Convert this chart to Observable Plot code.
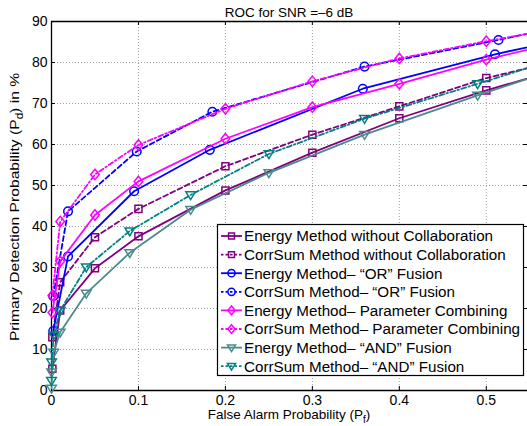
<!DOCTYPE html>
<html><head><meta charset="utf-8">
<script src="https://cdn.jsdelivr.net/npm/d3@7"></script>
<script src="https://cdn.jsdelivr.net/npm/@observablehq/plot@0.6"></script>
<style>
html,body{margin:0;padding:0;background:#fff;overflow:hidden;}
#chart svg{display:block;}
</style></head><body><div id="chart"></div>
<script>
// ---- data ----
const titleText = "ROC for SNR =\u20136 dB";
const xTicks = [0, 0.1, 0.2, 0.3, 0.4, 0.5];
const yTicks = [0, 10, 20, 30, 40, 50, 60, 70, 80, 90];
const seriesNames = [
  "Energy Method without Collaboration",
  "CorrSum Method without Collaboration",
  "Energy Method\u2013 \u201COR\u201D Fusion",
  "CorrSum Method\u2013 \u201COR\u201D Fusion",
  "Energy Method\u2013 Parameter Combining",
  "CorrSum Method\u2013 Parameter Combining",
  "Energy Method\u2013 \u201CAND\u201D Fusion",
  "CorrSum Method\u2013 \u201CAND\u201D Fusion"
];
const energyNoCollabX = [0.001, 0.01, 0.05, 0.1, 0.2, 0.3, 0.4, 0.5, 0.6];
const energyNoCollabY = [5.3, 19.5, 29.8, 37.6, 48.8, 58.0, 66.4, 73.2, 79.3];
const corrNoCollabX = [0.001, 0.01, 0.05, 0.1, 0.2, 0.3, 0.4, 0.5, 0.6];
const corrNoCollabY = [13.0, 26.4, 37.4, 44.3, 54.7, 62.4, 69.3, 76.2, 81.3];
const energyOrX = [0.002, 0.019, 0.095, 0.182, 0.358, 0.51, 0.64];
const energyOrY = [14.5, 32.7, 48.6, 58.7, 73.6, 82.0, 88.0];
const corrOrX = [0.002, 0.019, 0.098, 0.185, 0.36, 0.514, 0.64];
const corrOrY = [23.0, 43.7, 58.3, 68.0, 79.0, 85.5, 91.2];
const energyParamX = [0.001, 0.01, 0.05, 0.1, 0.2, 0.3, 0.4, 0.5, 0.6];
const energyParamY = [19.0, 31.5, 42.8, 51.0, 61.4, 69.1, 74.8, 80.7, 85.8];
const corrParamX = [0.001, 0.01, 0.05, 0.1, 0.2, 0.3, 0.4, 0.5, 0.6];
const corrParamY = [23.2, 41.2, 52.7, 59.9, 68.7, 75.4, 81.0, 85.2, 89.0];
const energyAndX = [0.000001, 0.0001, 0.0025, 0.01, 0.04, 0.09, 0.16, 0.25, 0.36, 0.49, 0.64];
const energyAndY = [0.5, 4.5, 9.3, 14.2, 23.7, 33.6, 44.1, 53.1, 62.4, 72.0, 82.5];
const corrAndX = [0.000001, 0.0001, 0.0025, 0.01, 0.04, 0.09, 0.16, 0.25, 0.36, 0.49, 0.64];
const corrAndY = [2.4, 6.9, 13.5, 19.5, 30.1, 38.9, 47.7, 57.7, 66.3, 74.8, 84.8];

const seriesX = [energyNoCollabX, corrNoCollabX, energyOrX, corrOrX, energyParamX, corrParamX, energyAndX, corrAndX];
const seriesY = [energyNoCollabY, corrNoCollabY, energyOrY, corrOrY, energyParamY, corrParamY, energyAndY, corrAndY];

// ---- styles ----
const colors = ["#800080", "#800080", "#0000ff", "#0000ff", "#ff00ff", "#ff00ff", "#4a8c8c", "#008080"];
const dashes = [null, "5,3", null, "5,3", null, "5,2.5,1.5,2.5", null, "5,2.5,1.5,2.5"];
const symbolKinds = ["square", "square", "circle", "circle", "diamond", "diamond", "tri", "tri"];

function makeSymbol(kind) {
  return {
    draw(ctx, size) {
      const r = Math.sqrt(size / Math.PI);
      if (kind === "circle") { ctx.moveTo(r, 0); ctx.arc(0, 0, r, 0, 2 * Math.PI); }
      else if (kind === "square") { const h = r * 0.82; ctx.moveTo(-h, -h); ctx.lineTo(h, -h); ctx.lineTo(h, h); ctx.lineTo(-h, h); ctx.closePath(); }
      else if (kind === "diamond") { const w = r * 1.0, hh = r * 1.22; ctx.moveTo(0, -hh); ctx.lineTo(w, 0); ctx.lineTo(0, hh); ctx.lineTo(-w, 0); ctx.closePath(); }
      else { const w = r * 1.12; ctx.moveTo(-w, -r * 0.72); ctx.lineTo(w, -r * 0.72); ctx.lineTo(0, r * 1.1); ctx.closePath(); }
    }
  };
}

const W = 527, H = 426;
const mL = 51, mT = 21, mB = 36, mR = 0;
const xMax = 0.5474, yMax = 90;
const tickPx = 4;
const tY = tickPx * yMax / (H - mT - mB);
const tX = tickPx * xMax / (W - mL - mR);
const font = "'Liberation Sans', Arial, Helvetica, sans-serif";

const marks = [
  Plot.ruleX(xTicks.filter(d => d > 0), {stroke: "#a0a0a0", strokeDasharray: "1,2", strokeWidth: 1}),
  Plot.ruleY(yTicks.filter(d => d > 0 && d < yMax), {stroke: "#a0a0a0", strokeDasharray: "1,2", strokeWidth: 1}),
  Plot.ruleX(xTicks, {y1: 0, y2: tY, stroke: "#000"}),
  Plot.ruleX(xTicks, {y1: yMax - tY, y2: yMax, stroke: "#000"}),
  Plot.ruleY(yTicks, {x1: 0, x2: tX, stroke: "#000"}),
  Plot.ruleY(yTicks, {x1: xMax - tX, x2: xMax, stroke: "#000"}),
  Plot.ruleY([0, yMax], {stroke: "#000", strokeWidth: 1.3}),
  Plot.ruleX([0], {stroke: "#000", strokeWidth: 1.3})
];

seriesNames.forEach((name, i) => {
  const rows = seriesX[i].map((x, j) => ({x, y: seriesY[i][j]}));
  marks.push(Plot.line(rows, {x: "x", y: "y", stroke: colors[i], strokeWidth: 1.8, strokeDasharray: dashes[i], clip: true}));
  marks.push(Plot.dot(rows.filter(d => d.x <= xMax), {x: "x", y: "y", symbol: makeSymbol(symbolKinds[i]), r: 4.3, stroke: colors[i], strokeWidth: 1.5, fill: "none"}));
});

const chart = Plot.plot({
  width: W, height: H,
  marginLeft: mL, marginTop: mT, marginBottom: mB, marginRight: mR,
  style: {fontFamily: font, fontSize: "14px", color: "#000", background: "#fff"},
  x: {domain: [0, xMax], ticks: xTicks, tickSize: 0, tickPadding: 5, tickFormat: d => d === 0 ? "0" : String(d), label: null},
  y: {domain: [0, yMax], ticks: yTicks, tickSize: 0, tickPadding: 4, label: null},
  marks
});
document.getElementById("chart").appendChild(chart);

// ---- title, axis labels, legend ----
const svg = d3.select(chart);
const cx = mL + (W - mL - mR) / 2;
svg.append("text").attr("x", cx).attr("y", 17).attr("text-anchor", "middle")
  .style("font-family", font).style("font-size", "13.5px").text(titleText);

const xl = svg.append("text").attr("x", cx).attr("y", 419).attr("text-anchor", "middle")
  .style("font-family", font).style("font-size", "13.5px");
xl.append("tspan").text("False Alarm Probability (P");
xl.append("tspan").attr("dy", 4).style("font-size", "10px").text("f");
xl.append("tspan").attr("dy", -4).text(")");

const yl = svg.append("text").attr("transform", `translate(19,207) rotate(-90) scale(1.16,1)`).attr("text-anchor", "middle")
  .style("font-family", font).style("font-size", "13.5px");
yl.append("tspan").text("Primary Detection Probability (P");
yl.append("tspan").attr("dy", 4).style("font-size", "10px").text("d");
yl.append("tspan").attr("dy", -4).text(") in %");

const lg = svg.append("g");
lg.append("rect").attr("x", 217.5).attr("y", 224.5).attr("width", 306).attr("height", 151)
  .attr("fill", "#fff").attr("stroke", "#000").attr("stroke-width", 1.2);
seriesNames.forEach((name, i) => {
  const yy = 236 + i * 18.6;
  lg.append("line").attr("x1", 221).attr("x2", 242).attr("y1", yy).attr("y2", yy)
    .attr("stroke", colors[i]).attr("stroke-width", 1.8).attr("stroke-dasharray", dashes[i] ? "2.5,2" : null);
  const p = d3.path();
  makeSymbol(symbolKinds[i]).draw(p, Math.PI * 3.6 * 3.6);
  lg.append("path").attr("d", p.toString()).attr("transform", `translate(231.5,${yy})`)
    .attr("fill", "none").attr("stroke", colors[i]).attr("stroke-width", 1.5);
  lg.append("text").attr("x", 244).attr("y", yy).attr("dy", "0.35em").attr("text-anchor", "start")
    .style("font-family", font).style("font-size", "15.2px").text(name);
});
</script></body></html>
